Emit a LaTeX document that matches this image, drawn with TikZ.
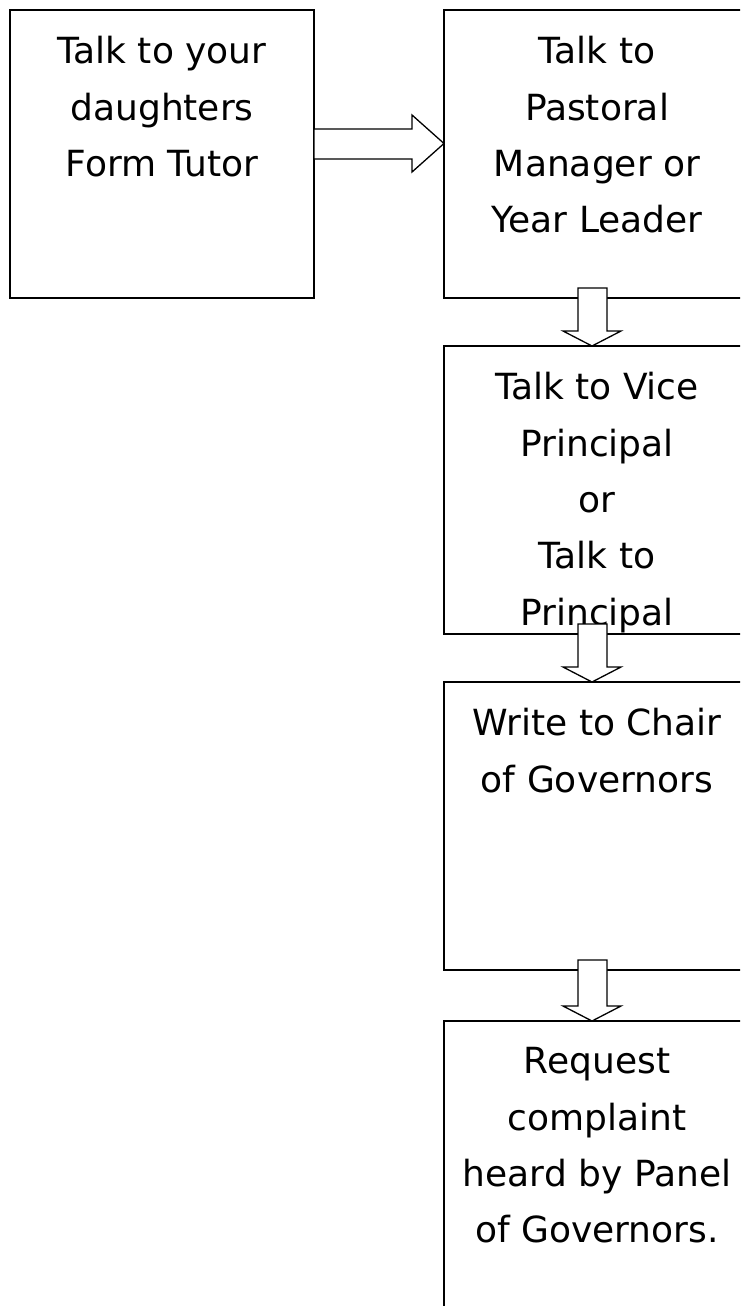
\documentclass[tikz,border=0pt]{standalone}
\usepackage{fontspec}
\setmainfont{DejaVu Sans}
\usetikzlibrary{calc}
\newcommand\dnarrow[2]{%
  \draw[blockarrow] ($(#1.south west)+(134,-10)$) -- ($(#1.south west)+(163,-10)$)
    -- ($(#2.north west)+(163,-15)$) -- ($(#2.north west)+(177,-15)$)
    -- ($(#2.north west)+(148,0)$) -- ($(#2.north west)+(119,-15)$)
    -- ($(#2.north west)+(134,-15)$) -- cycle;}
\begin{document}
\begin{tikzpicture}[x=0.5pt,y=-0.5pt,
  box/.style={draw,line width=1.1pt,minimum width=153pt,minimum height=144pt,inner sep=0pt,outer sep=0pt,anchor=north west},
  txt/.style={anchor=north,inner sep=0pt,align=center,font=\fontsize{18}{28.2}\selectfont},
  blockarrow/.style={draw,fill=white,line width=0.65pt,line join=miter}]
\useasboundingbox (0,0) rectangle (740,1306);
\fill[white] (0,0) rectangle (740,1306);
\begin{scope}
\clip (0,0) rectangle (740,1306);
\node[box,minimum width=152pt] (a) at (10,10) {};
\node[box] (b1) at (444,10) {};
\node[box] (b2) at (444,346) {};
\node[box] (b3) at (444,682) {};
\node[box] (b4) at (444,1021) {};

\node[txt] (ta) at ($(a.north)+(0,26)$) {Talk to your\\daughters\\Form Tutor};
\node[txt] (t1) at ($(b1.north)+(0,26)$) {Talk to\\Pastoral\\Manager or\\Year Leader};
\node[txt] (t2) at ($(b2.north)+(0,26)$) {Talk to Vice\\Principal\\or\\Talk to\\Principal};
\node[txt] (t3) at ($(b3.north)+(0,26)$) {Write to Chair\\of Governors};
\node[txt] (t4) at ($(b4.north)+(0,26)$) {Request\\complaint\\heard by Panel\\of Governors.};

\draw[blockarrow] ($(a.north east)+(0,119)$) -- ++(98,0) -- ++(0,-14)
  -- ($(b1.north west)+(0,133.5)$) -- ($(a.north east)+(98,162)$) -- ++(0,-13)
  -- ($(a.north east)+(0,149)$) -- cycle;
\dnarrow{b1}{b2}
\dnarrow{b2}{b3}
\dnarrow{b3}{b4}
\end{scope}
\end{tikzpicture}
\end{document}
